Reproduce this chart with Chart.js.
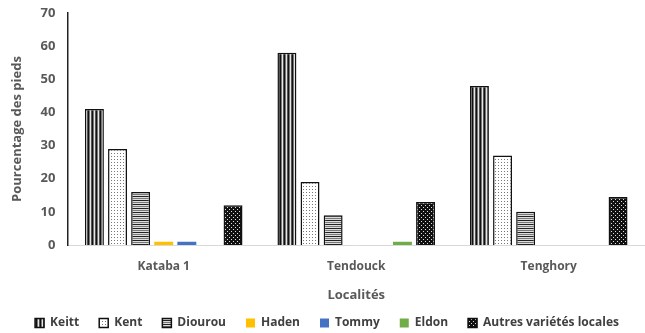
<!DOCTYPE html>
<html>
<head>
<meta charset="utf-8">
<script src="https://cdn.jsdelivr.net/npm/chart.js@4"></script>
<style>
  html, body { margin: 0; padding: 0; background: #fff; }
  #wrap { width: 645px; height: 333px; }
</style>
</head>
<body>
<div id="wrap"><canvas id="chart" width="645" height="333"></canvas></div>
<script>
const localites = ['Kataba 1', 'Tendouck', 'Tenghory'];
const keitt = [41, 58, 48];
const kent = [29, 19, 27];
const diourou = [16, 9, 10];
const haden = [1, 0, 0];
const tommy = [1, 0, 0];
const eldon = [0, 1, 0];
const autres = [12, 13, 14.5];

// small repeating canvas fills for the hatched series
function makePattern(w, h, paint) {
    let c = document.createElement('canvas');
    c.width = w;
    c.height = h;
    let g = c.getContext('2d');
    paint(g);
    return g.createPattern(c, 'repeat');
}

const vStripes = makePattern(4, 4, g => {
    g.fillStyle = '#e6e6e6'; g.fillRect(0, 0, 4, 4);
    g.fillStyle = '#111'; g.fillRect(0, 0, 1, 4);
    g.fillStyle = '#777'; g.fillRect(1, 0, 1, 4);
    g.fillStyle = '#555'; g.fillRect(3, 0, 1, 4);
});
const lightDots = makePattern(3, 3, g => {
    g.fillStyle = '#fff'; g.fillRect(0, 0, 3, 3);
    g.fillStyle = '#777'; g.fillRect(0, 0, 1, 1);
});
const hStripes = makePattern(4, 4, g => {
    g.fillStyle = '#ddd'; g.fillRect(0, 0, 4, 4);
    g.fillStyle = '#222'; g.fillRect(0, 0, 4, 1);
    g.fillStyle = '#777'; g.fillRect(0, 2, 4, 1);
});
const darkDots = makePattern(4, 4, g => {
    g.fillStyle = '#111'; g.fillRect(0, 0, 4, 4);
    g.fillStyle = '#ddd'; g.fillRect(1, 1, 1, 1); g.fillRect(3, 3, 1, 1);
});

const TEXT = '#595959';
const FONT = "'Open Sans', 'Liberation Sans', sans-serif";

function series(label, data, fill, border) {
    return {
        label: label,
        data: data,
        backgroundColor: fill,
        borderColor: border,
        borderWidth: border ? 1.5 : 0
    };
}

new Chart(document.getElementById('chart'), {
    type: 'bar',
    data: {
        labels: localites,
        datasets: [
            series('Keitt', keitt, vStripes, '#111'),
            series('Kent', kent, lightDots, '#111'),
            series('Diourou', diourou, hStripes, '#111'),
            series('Haden', haden, '#ffc000', null),
            series('Tommy', tommy, '#4472c4', null),
            series('Eldon', eldon, '#70ad47', null),
            series('Autres variétés locales', autres, darkDots, '#111')
        ]
    },
    options: {
        responsive: false,
        animation: false,
        layout: { padding: { top: 0, right: 0, left: 9, bottom: -6 } },
        datasets: {
            bar: { categoryPercentage: 0.84, barPercentage: 0.82 }
        },
        plugins: {
            legend: {
                position: 'bottom',
                labels: {
                    color: '#404040',
                    boxWidth: 9,
                    boxHeight: 9,
                    padding: 20,
                    font: { family: FONT, size: 12, weight: 'bold' }
                }
            },
            tooltip: { enabled: false }
        },
        scales: {
            x: {
                grid: { display: false, drawTicks: false },
                border: { color: '#d9d9d9', width: 1 },
                ticks: { color: TEXT, padding: 14, font: { family: FONT, size: 12, weight: 'bold' } },
                title: {
                    display: true,
                    text: 'Localités',
                    color: TEXT,
                    padding: { top: 0, bottom: -6 },
                    font: { family: FONT, size: 13, weight: 'bold' }
                }
            },
            y: {
                min: 0,
                max: 70,
                grid: { display: false, drawTicks: false },
                border: { color: '#222', width: 1.5 },
                ticks: { stepSize: 10, color: TEXT, padding: 12, font: { family: FONT, size: 13, weight: 'bold' } },
                // keep the top tick close to the canvas edge
                afterFit: scale => { scale.paddingTop = 13; },
                title: {
                    display: true,
                    text: 'Pourcentage des pieds',
                    color: TEXT,
                    padding: { top: 0, bottom: 4 },
                    font: { family: FONT, size: 13, weight: 'bold' }
                }
            }
        }
    }
});
</script>
</body>
</html>
